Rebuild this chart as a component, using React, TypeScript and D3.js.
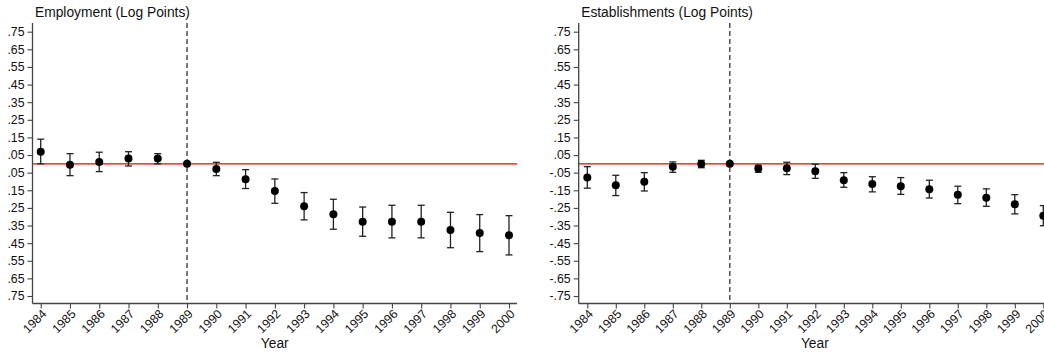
import { useEffect, useRef } from "react";
import * as d3 from "d3";

const YEARS = [1984, 1985, 1986, 1987, 1988, 1989, 1990, 1991, 1992, 1993, 1994, 1995, 1996, 1997, 1998, 1999, 2000];

// Employment (log points): estimate, lower CI, upper CI
const EMP_EST = [0.069, -0.005, 0.011, 0.03, 0.03, 0, -0.029, -0.088, -0.154, -0.241, -0.286, -0.328, -0.328, -0.328, -0.375, -0.392, -0.405];
const EMP_LO = [0.0, -0.067, -0.044, -0.012, 0.0, 0, -0.067, -0.14, -0.224, -0.318, -0.371, -0.411, -0.42, -0.42, -0.476, -0.498, -0.517];
const EMP_HI = [0.14, 0.058, 0.066, 0.069, 0.058, 0, 0.009, -0.033, -0.086, -0.163, -0.201, -0.245, -0.235, -0.235, -0.275, -0.288, -0.294];

// Establishments (log points)
const EST_EST = [-0.078, -0.121, -0.101, -0.016, -0.001, 0, -0.027, -0.025, -0.042, -0.093, -0.114, -0.127, -0.144, -0.176, -0.192, -0.229, -0.294];
const EST_LO = [-0.138, -0.18, -0.154, -0.048, -0.022, 0, -0.048, -0.061, -0.082, -0.133, -0.159, -0.173, -0.194, -0.226, -0.241, -0.284, -0.351];
const EST_HI = [-0.016, -0.065, -0.05, 0.011, 0.02, 0, -0.008, 0.009, -0.002, -0.05, -0.073, -0.078, -0.093, -0.127, -0.142, -0.175, -0.237];

const Y_TICKS = [0.75, 0.65, 0.55, 0.45, 0.35, 0.25, 0.15, 0.05, -0.05, -0.15, -0.25, -0.35, -0.45, -0.55, -0.65, -0.75];
// left panel labels are cut at the image edge, minus signs not visible
const LEFT_LABELS = [".75", ".65", ".55", ".45", ".35", ".25", ".15", ".05", ".05", ".15", ".25", ".35", ".45", ".55", ".65", ".75"];
const RIGHT_LABELS = [".75", ".65", ".55", ".45", ".35", ".25", ".15", ".05", "-.05", "-.15", "-.25", "-.35", "-.45", "-.55", "-.65", "-.75"];

const EVENT_YEAR = 1989;
const FONT = "'Liberation Sans', Arial, Helvetica, sans-serif";

interface Panel {
  title: string;
  est: number[];
  lo: number[];
  hi: number[];
  labels: string[];
  axisX: number;
  x0: number;
  x1: number;
  right: number;
}

const PANELS: Panel[] = [
  { title: "Employment (Log Points)", est: EMP_EST, lo: EMP_LO, hi: EMP_HI, labels: LEFT_LABELS, axisX: 32.5, x0: 40.7, x1: 509, right: 517 },
  { title: "Establishments (Log Points)", est: EST_EST, lo: EST_LO, hi: EST_HI, labels: RIGHT_LABELS, axisX: 578.7, x0: 587.3, x1: 1043.3, right: 1051 },
];

export default function App() {
  const svgRef = useRef<SVGSVGElement>(null);

  useEffect(() => {
    if (!svgRef.current) return;
    const svg = d3.select(svgRef.current);
    svg.selectAll("*").remove();

    const top = 23;
    const bottom = 303.5;
    const y = d3.scaleLinear().domain([-0.75, 0.75]).range([296, 31.7]);

    PANELS.forEach((p) => {
      const x = d3.scaleLinear().domain([1984, 2000]).range([p.x0, p.x1]);
      const g = svg.append("g");

      // title
      g.append("text")
        .attr("x", p.axisX + 2.5)
        .attr("y", 16.5)
        .attr("font-size", "13.8px")
        .attr("font-family", FONT)
        .attr("fill", "#111")
        .text(p.title);

      // zero line
      g.append("line")
        .attr("x1", p.axisX)
        .attr("x2", p.right)
        .attr("y1", y(0))
        .attr("y2", y(0))
        .attr("stroke", "#ee0000")
        .attr("stroke-width", 1.2);

      // event year dashed line
      g.append("line")
        .attr("x1", x(EVENT_YEAR))
        .attr("x2", x(EVENT_YEAR))
        .attr("y1", top)
        .attr("y2", bottom)
        .attr("stroke", "#333")
        .attr("stroke-width", 1.3)
        .attr("stroke-dasharray", "5,3");

      // y axis
      const yAxis = d3
        .axisLeft(y)
        .tickValues(Y_TICKS)
        .tickSize(5)
        .tickPadding(3)
        .tickFormat((_, i) => p.labels[i]);
      const ya = g.append("g").attr("transform", `translate(${p.axisX},0)`).call(yAxis);
      ya.select(".domain").remove();
      ya.selectAll("line").attr("stroke", "#444").attr("stroke-width", 1.1);
      ya.selectAll("text")
        .attr("font-size", "12.3px")
        .attr("font-family", FONT)
        .attr("fill", "#111");

      // x axis
      const xAxis = d3
        .axisBottom(x)
        .tickValues(YEARS)
        .tickSize(5)
        .tickFormat((d) => String(d));
      const xa = g.append("g").attr("transform", `translate(0,${bottom})`).call(xAxis);
      xa.select(".domain").remove();
      xa.selectAll("line").attr("stroke", "#444").attr("stroke-width", 1.1);
      xa.selectAll("text")
        .attr("font-size", "12.3px")
        .attr("font-family", FONT)
        .attr("fill", "#111")
        .attr("text-anchor", "end")
        .attr("y", 0)
        .attr("dy", "0.35em")
        .attr("transform", "translate(3,8) rotate(-45)");

      // axis lines
      g.append("line")
        .attr("x1", p.axisX)
        .attr("x2", p.axisX)
        .attr("y1", top)
        .attr("y2", bottom)
        .attr("stroke", "#444")
        .attr("stroke-width", 1.3);
      g.append("line")
        .attr("x1", p.axisX)
        .attr("x2", p.right)
        .attr("y1", bottom)
        .attr("y2", bottom)
        .attr("stroke", "#444")
        .attr("stroke-width", 1.3);

      // axis title
      g.append("text")
        .attr("x", (p.axisX + p.right) / 2)
        .attr("y", 347.5)
        .attr("text-anchor", "middle")
        .attr("font-size", "13.8px")
        .attr("font-family", FONT)
        .attr("fill", "#111")
        .text("Year");

      // error bars
      const cap = 3.5;
      YEARS.forEach((yr, i) => {
        if (p.lo[i] === p.hi[i]) return;
        const cx = x(yr);
        const bar = g.append("g").attr("stroke", "#222").attr("stroke-width", 1.3);
        bar.append("line").attr("x1", cx).attr("x2", cx).attr("y1", y(p.lo[i])).attr("y2", y(p.hi[i]));
        bar.append("line").attr("x1", cx - cap).attr("x2", cx + cap).attr("y1", y(p.lo[i])).attr("y2", y(p.lo[i]));
        bar.append("line").attr("x1", cx - cap).attr("x2", cx + cap).attr("y1", y(p.hi[i])).attr("y2", y(p.hi[i]));
      });

      // points
      g.append("g")
        .selectAll("circle")
        .data(YEARS)
        .join("circle")
        .attr("cx", (d) => x(d))
        .attr("cy", (_, i) => y(p.est[i]))
        .attr("r", 4)
        .attr("fill", "#000");
    });
  }, []);

  return (
    <svg
      ref={svgRef}
      width={1044}
      height={358}
      style={{ position: "absolute", left: 0, top: 0, background: "#fff" }}
    />
  );
}
